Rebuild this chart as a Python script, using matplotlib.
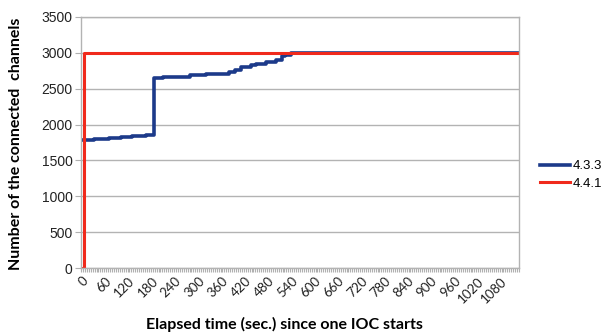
import matplotlib.pyplot as plt
import numpy as np

# elapsed time (sec.) at which the channel count changes, and the count from there on
t_433 = [0, 30, 70, 100, 130, 165, 185, 210, 280, 320, 360, 380, 395, 410, 435,
         450, 475, 500, 515, 525, 540, 1125]
n_433 = [1780, 1800, 1815, 1830, 1845, 1860, 2650, 2670, 2685, 2700, 2710, 2730,
         2760, 2800, 2830, 2850, 2870, 2900, 2950, 2975, 3000, 3000]

t_441 = [0, 5, 1125]
n_441 = [0, 3000, 3000]

xlabels = list(range(0, 1081, 60))
yticks = list(range(0, 3501, 500))

fig = plt.figure(figsize=(6.1, 3.35), dpi=100)
ax = fig.add_axes([81/610, 1-268/335, (519-81)/610, (268-17)/335])

ax.plot(t_433, n_433, drawstyle='steps-post', color='#1c3a8a', lw=2.6, label='4.3.3')
ax.plot(t_441, n_441, drawstyle='steps-post', color='#f02a1c', lw=2.2, label='4.4.1')

ax.set_xlim(-2.5, 1127.5)
ax.set_ylim(0, 3500)
ax.set_yticks(yticks)
ax.set_xticks(xlabels)
ax.set_xticklabels([str(v) for v in xlabels], rotation=45, ha='right', va='top',
                   rotation_mode='anchor', fontsize=9.5, family='Lato', color='#222222')
ax.set_xticks(np.arange(-2.5, 1128, 5), minor=True)
ax.tick_params(axis='x', which='major', length=0, pad=5)
ax.tick_params(axis='x', which='minor', length=3, color='#b0b0b0', width=0.8)
ax.tick_params(axis='y', length=4, color='#b0b0b0', labelsize=10, pad=2)
for lab in ax.get_yticklabels():
    lab.set_family('Liberation Sans')
    lab.set_color('#222222')

ax.grid(axis='y', color='#b3b3b3', lw=1)
ax.set_axisbelow(True)
for s in ax.spines.values():
    s.set_color('#b3b3b3')
    s.set_linewidth(1)

fig.text(0.466, 0.03, 'Elapsed time (sec.) since one IOC starts', ha='center', va='center',
         fontsize=11.5, fontweight='bold', family='Lato')
fig.text(0.027, 0.57, 'Number of the connected  channels', ha='center', va='center',
         rotation=90, fontsize=11.5, fontweight='bold', family='Lato')

leg = ax.legend(loc='center left', bbox_to_anchor=(1.02, 0.37), frameon=False,
                handlelength=2.3, handletextpad=0.2, labelspacing=0.4,
                prop={'family': 'Liberation Sans', 'size': 9.5})

fig.savefig('out.png', dpi=100)
